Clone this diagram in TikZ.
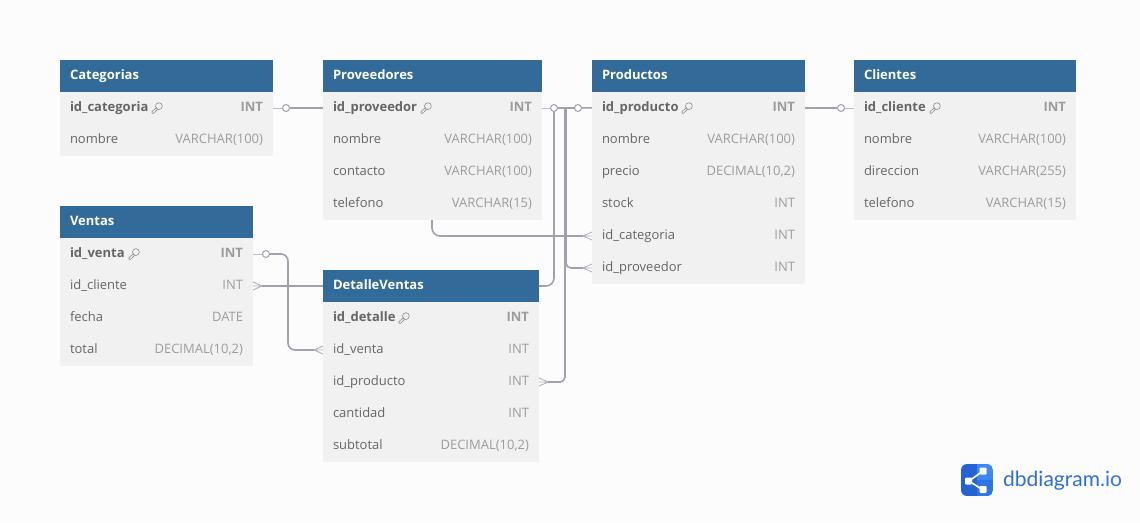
\documentclass[tikz,border=0pt]{standalone}
\usepackage{fontspec}
\setmainfont{Open Sans}
\newfontfamily\logofont{Lato}
\usetikzlibrary{positioning,backgrounds,calc}
\definecolor{chead}{HTML}{326A99}
\definecolor{crow}{HTML}{F1F1F1}
\definecolor{cname}{HTML}{666666}
\definecolor{ctype}{HTML}{9C9C9C}
\definecolor{cline}{HTML}{A1A1AE}
\definecolor{cstub}{HTML}{BDBDC6}
\definecolor{cpage}{HTML}{FCFCFD}
\definecolor{clogo}{HTML}{2F6FD8}
\definecolor{clogoa}{HTML}{2563D2}
\definecolor{clogob}{HTML}{3C87F4}
\definecolor{clogoc}{HTML}{2F74E4}
\newcommand{\fs}{\fontsize{13}{15}\selectfont}
\tikzset{
  headn/.style={fill=chead, text=white, font=\fs\bfseries, text width=#1, inner xsep=10pt, inner ysep=0pt, minimum height=32pt, outer sep=0pt, text height=10pt, text depth=3pt, align=left},
  rown/.style={fill=crow, text=cname, font=\fs, text width=#1, inner xsep=10pt, inner ysep=0pt, minimum height=32pt, outer sep=0pt, text height=10pt, text depth=3pt, align=left},
  keyn/.style={rown=#1, font=\fs\bfseries},
  typen/.style={anchor=east, text=ctype, font=\fs, inner sep=0pt, outer sep=0pt, text height=10pt, text depth=3pt},
  ktypen/.style={typen, font=\fs\bfseries},
  rel/.style={draw=cline, line width=1.6pt},
  stub/.style={draw=cstub, line width=1pt},
  crowl/.style={draw=cstub!60!cline, line width=.9pt},
  onecirc/.style={circle, draw=cline, line width=1pt, fill=cpage, inner sep=0pt, minimum size=7pt},
  keyl/.style={draw=cname!75, line width=.6pt, line join=round},
  keyicon/.pic={
    \draw[keyl] (1.9,-1.9) circle (3.4);
    \draw[keyl] (-.5,-.5) -- (-5,3.6) -- (-5,5.2) -- (-3.2,5.2) -- (.6,1.2);
  },
}
% one row of a table: name, row above, text width, column, type
\newcommand{\colrow}[5]{%
  \node[rown=#3, below=0pt of #2] (#1) {#4};
  \node[typen] (#1t) at ([xshift=-10pt]#1.east) {#5};
}
\newcommand{\keyrow}[5]{%
  \node[keyn=#3, below=0pt of #2] (#1) {#4};
  \node[ktypen] (#1t) at ([xshift=-10pt]#1.east) {#5};
}
% crow's foot from the tip to a row side
\newcommand{\crowfoot}[2]{%
  \draw[crowl] (#1) -- ([yshift=4pt]#2) (#1) -- (#2) (#1) -- ([yshift=-4pt]#2);
}
\begin{document}
\begin{tikzpicture}[x=1pt,y=-1pt]
\useasboundingbox (0,0) rectangle (1140,522);

% Categorias
\node[headn=193pt, anchor=north west] (cat) at (60,60) {Categorias};
\keyrow{catid}{cat}{193pt}{id\_categoria}{INT}
\colrow{catnom}{catid}{193pt}{nombre}{VARCHAR(100)}
\pic at ([xshift=97pt]catid.west) {keyicon};

% Proveedores
\node[headn=199pt, anchor=north west] (prov) at (323,60) {Proveedores};
\keyrow{provid}{prov}{199pt}{id\_proveedor}{INT}
\colrow{provnom}{provid}{199pt}{nombre}{VARCHAR(100)}
\colrow{provcon}{provnom}{199pt}{contacto}{VARCHAR(100)}
\colrow{provtel}{provcon}{199pt}{telefono}{VARCHAR(15)}
\pic at ([xshift=103pt]provid.west) {keyicon};

% Productos
\node[headn=193pt, anchor=north west] (prod) at (592,60) {Productos};
\keyrow{prodid}{prod}{193pt}{id\_producto}{INT}
\colrow{prodnom}{prodid}{193pt}{nombre}{VARCHAR(100)}
\colrow{prodpre}{prodnom}{193pt}{precio}{DECIMAL(10,2)}
\colrow{prodsto}{prodpre}{193pt}{stock}{INT}
\colrow{prodcat}{prodsto}{193pt}{id\_categoria}{INT}
\colrow{prodprov}{prodcat}{193pt}{id\_proveedor}{INT}
\pic at ([xshift=95pt]prodid.west) {keyicon};

% Clientes
\node[headn=202pt, anchor=north west] (cli) at (854,60) {Clientes};
\keyrow{cliid}{cli}{202pt}{id\_cliente}{INT}
\colrow{clinom}{cliid}{202pt}{nombre}{VARCHAR(100)}
\colrow{clidir}{clinom}{202pt}{direccion}{VARCHAR(255)}
\colrow{clitel}{clidir}{202pt}{telefono}{VARCHAR(15)}
\pic at ([xshift=81pt]cliid.west) {keyicon};

% Ventas
\node[headn=173pt, anchor=north west] (ven) at (60,206) {Ventas};
\keyrow{venid}{ven}{173pt}{id\_venta}{INT}
\colrow{vencli}{venid}{173pt}{id\_cliente}{INT}
\colrow{venfec}{vencli}{173pt}{fecha}{DATE}
\colrow{ventot}{venfec}{173pt}{total}{DECIMAL(10,2)}
\pic at ([xshift=74pt]venid.west) {keyicon};

% DetalleVentas
\node[headn=196pt, anchor=north west] (det) at (323,270) {DetalleVentas};
\keyrow{detid}{det}{196pt}{id\_detalle}{INT}
\colrow{detven}{detid}{196pt}{id\_venta}{INT}
\colrow{detprod}{detven}{196pt}{id\_producto}{INT}
\colrow{detcan}{detprod}{196pt}{cantidad}{INT}
\colrow{detsub}{detcan}{196pt}{subtotal}{DECIMAL(10,2)}
\pic at ([xshift=81pt]detid.west) {keyicon};

% ends of the connectors
\node[onecirc] (catc) at ([xshift=13pt]catid.east) {};
\node[onecirc] (provc) at ([xshift=12pt]provid.east) {};
\node[onecirc] (prodc) at ([xshift=-14pt]prodid.west) {};
\node[onecirc] (clic) at ([xshift=-13pt]cliid.west) {};
\node[onecirc] (venc) at ([xshift=13pt]venid.east) {};
\coordinate (tprodcat) at ([xshift=-9pt]prodcat.west);
\coordinate (tprodprov) at ([xshift=-9pt]prodprov.west);
\coordinate (tdetven) at ([xshift=-9pt]detven.west);
\coordinate (tdetprod) at ([xshift=9pt]detprod.east);
\coordinate (tvencli) at ([xshift=9pt]vencli.east);

\begin{scope}[on background layer]
\fill[cpage] (0,0) rectangle (1140,522);
\draw[rel, rounded corners=8pt] (catc) -- ++(146,0) |- (tprodcat);
\draw[rel] (provc) -- ++(12,0) [rounded corners=5pt] |- (tprodprov);
\draw[rel] (prodc) -- ++(-13,0) [rounded corners=5pt] |- (tdetprod);
\draw[rel, rounded corners=8pt] (tvencli) -- ++(292,0) [sharp corners] |- (clic);
\draw[rel, rounded corners=7pt] (venc) -- ++(22,0) |- (tdetven);
\draw[stub] (catid.east) -- (catc);
\draw[stub] (provid.east) -- (provc);
\draw[stub] (prodid.west) -- (prodc);
\draw[stub] (cliid.west) -- (clic);
\draw[stub] (venid.east) -- (venc);
\end{scope}
\crowfoot{tprodcat}{prodcat.west}
\crowfoot{tprodprov}{prodprov.west}
\crowfoot{tdetven}{detven.west}
\crowfoot{tdetprod}{detprod.east}
\crowfoot{tvencli}{vencli.east}

% logo
\begin{scope}
\clip[rounded corners=6pt] (961,464) rectangle (993,496);
\fill[clogoa] (961,464) rectangle (977,496);
\fill[clogob] (977,464) rectangle (993,480);
\fill[clogoc] (977,480) rectangle (993,496);
\end{scope}
\draw[white, line width=1.6pt] (983,471) -- (969,481) -- (983,490);
\fill[white, rounded corners=1pt] (965,477.5) rectangle (972,484.5);
\fill[white, rounded corners=1pt] (979.5,467.5) rectangle (986.5,474.5);
\fill[white, rounded corners=1pt] (979.5,486) rectangle (986.5,493);
\node[anchor=west, inner sep=0pt, text=clogo, font=\logofont\fontsize{21}{24}\selectfont] (logotxt) at (1003,481) {dbdiagram\textcolor{clogo!60!clogob}{.io}};
\end{tikzpicture}
\end{document}
